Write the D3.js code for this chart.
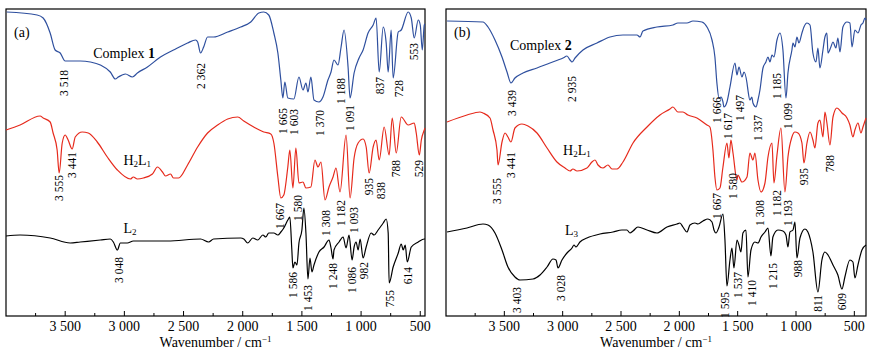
<!DOCTYPE html>
<html><head><meta charset="utf-8">
<script src="https://cdn.jsdelivr.net/npm/d3@7/dist/d3.min.js"></script>
<style>body{margin:0;background:#fff}svg{display:block}text{font-family:"Liberation Serif","Times New Roman",serif}</style>
</head><body><svg id="c" width="874" height="355"></svg>
<script>
// ---------- data (wavenumber cm-1, transmittance a.u.) ----------
const majorTicks = [3500,3000,2500,2000,1500,1000,500];
const minorTicks = [3750,3250,2750,2250,1750,1250,750];
const xTitle = "Wavenumber / cm";

const complex1 = [[3994,304],[3737,301],[3686,298],[3627,283],[3585,266],[3542,263],[3500,255],[3373,255],[3288,254],[3203,251],[3119,244],[3076,237],[3051,239],[2991,242],[2932,239],[2890,243],[2805,249],[2695,259],[2585,266],[2466,273],[2398,276],[2381,274],[2356,263],[2330,269],[2297,279],[2246,279],[2127,284],[2017,289],[1932,294],[1864,303],[1822,304],[1780,301],[1737,283],[1703,263],[1678,236],[1661,218],[1644,234],[1619,218],[1568,217],[1525,239],[1491,226],[1466,233],[1449,224],[1424,239],[1398,216],[1356,214],[1322,219],[1280,236],[1254,244],[1229,256],[1195,251],[1169,269],[1144,286],[1110,249],[1093,218],[1059,243],[1017,258],[983,266],[941,283],[898,291],[873,298],[847,244],[813,289],[788,273],[771,244],[746,286],[729,238],[686,284],[661,286],[602,304],[576,298],[551,278],[517,296],[500,291],[483,266],[466,291],[460,292]];
const h2l1A = [[4000,186],[3881,191],[3712,200],[3686,198],[3627,194],[3602,183],[3568,166],[3551,143],[3525,173],[3500,181],[3475,176],[3441,167],[3415,179],[3356,184],[3305,183],[3229,174],[3144,159],[3059,146],[2949,137],[2924,139],[2890,137],[2839,138],[2763,142],[2720,149],[2678,144],[2652,140],[2610,142],[2585,138],[2542,138],[2466,151],[2381,169],[2297,183],[2212,191],[2127,197],[2042,199],[1991,195],[1907,189],[1822,184],[1763,182],[1737,173],[1703,139],[1678,118],[1653,121],[1619,149],[1602,166],[1576,128],[1551,168],[1525,133],[1491,134],[1466,128],[1424,129],[1390,156],[1364,149],[1339,154],[1305,116],[1271,129],[1237,139],[1212,148],[1178,124],[1127,181],[1093,118],[1059,158],[1025,173],[983,177],[957,169],[932,143],[898,169],[873,176],[847,156],[805,189],[763,161],[737,198],[703,163],[661,199],[602,191],[551,193],[534,183],[508,161],[491,176],[466,186],[460,188]];
const l2 = [[4000,80],[3881,81],[3627,78],[3458,73],[3373,74],[3203,76],[3119,77],[3093,74],[3059,66],[3034,73],[2975,73],[2924,75],[2636,75],[2356,77],[2288,74],[2246,77],[2017,78],[1991,77],[1958,73],[1915,78],[1873,76],[1830,81],[1805,79],[1780,83],[1737,83],[1703,81],[1678,84],[1653,88],[1619,96],[1602,99],[1585,66],[1576,48],[1559,54],[1542,51],[1525,73],[1500,86],[1483,108],[1466,83],[1449,37],[1432,58],[1415,44],[1398,51],[1356,64],[1313,69],[1271,76],[1254,68],[1237,57],[1229,66],[1186,74],[1152,79],[1127,68],[1102,81],[1076,56],[1059,69],[1042,74],[1025,66],[1008,77],[983,58],[957,69],[915,83],[890,81],[856,86],[813,93],[788,97],[771,83],[763,33],[729,49],[686,63],[661,72],[644,66],[627,71],[610,54],[576,69],[517,74],[466,77],[460,77]];

const complex2 = [[3991,295],[3683,294],[3640,289],[3580,276],[3520,259],[3477,244],[3443,233],[3409,238],[3340,243],[3220,248],[3109,253],[3040,256],[2997,258],[2963,260],[2937,256],[2920,254],[2894,258],[2826,266],[2706,273],[2594,279],[2483,281],[2363,281],[2337,279],[2312,285],[2192,289],[2055,291],[2012,293],[1935,293],[1883,295],[1806,294],[1763,289],[1720,276],[1695,259],[1678,233],[1660,218],[1643,219],[1626,214],[1618,209],[1592,214],[1566,229],[1523,253],[1506,241],[1489,249],[1463,239],[1446,244],[1420,233],[1412,226],[1395,216],[1378,219],[1369,213],[1343,209],[1326,216],[1309,226],[1283,248],[1258,254],[1240,259],[1223,254],[1206,261],[1189,259],[1163,276],[1138,283],[1112,266],[1086,218],[1069,243],[1035,266],[1026,273],[1009,269],[992,279],[975,273],[949,283],[932,289],[906,293],[880,291],[855,263],[829,254],[812,268],[795,248],[769,266],[752,279],[735,283],[726,263],[701,269],[683,274],[658,268],[641,278],[623,264],[598,289],[563,294],[538,293],[520,269],[495,286],[469,283],[443,291],[426,293],[409,298],[400,296]];
const h2l1B = [[3991,194],[3820,201],[3709,204],[3683,203],[3623,198],[3597,186],[3563,166],[3554,151],[3520,174],[3494,183],[3469,179],[3443,174],[3409,188],[3349,192],[3297,190],[3220,183],[3134,168],[3049,154],[2980,148],[2937,145],[2912,147],[2877,145],[2792,148],[2749,154],[2723,156],[2697,151],[2655,148],[2612,151],[2577,147],[2534,147],[2483,154],[2397,173],[2277,189],[2166,201],[2080,207],[2055,209],[2012,204],[1969,204],[1926,201],[1849,198],[1763,191],[1738,189],[1712,166],[1695,139],[1678,126],[1652,128],[1626,149],[1592,173],[1575,158],[1558,176],[1540,163],[1506,136],[1498,141],[1463,134],[1420,139],[1395,163],[1369,156],[1352,163],[1326,136],[1300,124],[1266,133],[1240,159],[1206,173],[1189,133],[1163,161],[1129,188],[1095,124],[1069,159],[1035,179],[1009,184],[983,183],[949,173],[932,153],[906,173],[880,184],[855,176],[838,168],[812,193],[795,196],[769,179],[752,204],[735,193],[709,171],[683,199],[649,208],[606,203],[563,198],[538,191],[512,179],[495,186],[469,193],[443,183],[426,189],[400,198]];
const l3 = [[3991,84],[3820,88],[3683,92],[3640,91],[3580,83],[3520,66],[3469,49],[3409,39],[3366,36],[3254,37],[3194,41],[3134,49],[3083,57],[3057,56],[3040,48],[3006,56],[2963,63],[2920,68],[2903,71],[2886,69],[2852,74],[2792,78],[2680,82],[2569,84],[2492,86],[2449,86],[2423,83],[2397,85],[2355,89],[2277,86],[2192,83],[2106,89],[2020,92],[1995,93],[1969,89],[1935,84],[1909,91],[1866,93],[1840,92],[1797,95],[1755,97],[1720,94],[1703,86],[1686,83],[1660,89],[1626,102],[1609,76],[1592,30],[1566,56],[1549,68],[1532,48],[1506,76],[1489,71],[1472,64],[1455,83],[1429,86],[1412,39],[1386,66],[1352,74],[1326,73],[1300,79],[1266,84],[1240,88],[1215,60],[1198,79],[1155,86],[1112,85],[1086,81],[1069,69],[1052,84],[1026,86],[1009,94],[992,58],[966,78],[923,87],[898,84],[855,64],[812,24],[778,56],[752,64],[726,61],[683,51],[641,41],[606,27],[581,39],[538,56],[512,54],[495,38],[469,51],[435,66],[400,71]];

// peak labels: [text, wavenumber, value at top of label]
const peaksC1 = [["3 518",3508,246],["2 362",2356,253],["1 665",1661,208],["1 603",1568,207],["1 370",1347,206],["1 188",1169,238],["1 091",1093,211],["837",839,239],["728",678,236],["553",551,273]];
const peaksH2L1A = [["3 555",3551,141],["3 441",3441,164],["1 667",1686,113],["1 580",1534,121],["1 308",1297,106],["1 182",1169,116],["1 093",1059,109],["935",932,138],["838",830,134],["788",703,156],["529",508,156]];
const peaksL2 = [["3 048",3042,59],["1 586",1576,44],["1 453",1449,31],["1 248",1237,53],["1 086",1076,49],["982",974,54],["755",754,26],["614",602,49]];
const peaksC2 = [["3 439",3434,226],["2 935",2920,240],["1 666",1678,219],["1 617",1583,203],["1 497",1480,221],["1 337",1326,201],["1 185",1163,243],["1 099",1069,213]];
const peaksH2L1B = [["3 555",3563,138],["3 441",3443,164],["1 667",1678,123],["1 580",1540,143],["1 308",1309,116],["1 182",1163,126],["1 193",1069,116],["935",932,148],["788",709,161]];
const peaksL3 = [["3 403",3392,29],["3 028",3014,41],["1 595",1609,24],["1 537",1498,44],["1 410",1378,36],["1 215",1198,53],["988",983,56],["811",812,21],["609",606,23]];

const panelA = {tag:"(a)", domain:[4000,460], series:[
  {data:complex1, color:"#2e4f9e", peaks:peaksC1, name:[["Complex ",""],["1","b"]], nw:3263, nv:258},
  {data:h2l1A, color:"#e62a1c", peaks:peaksH2L1A, name:[["H",""],["2","s"],["L",""],["1","s"]], nw:3008, nv:151},
  {data:l2, color:"#000000", peaks:peaksL2, name:[["L",""],["2","s"]], nw:3008, nv:83}]};
const panelB = {tag:"(b)", domain:[4000,400], series:[
  {data:complex2, color:"#2e4f9e", peaks:peaksC2, name:[["Complex ",""],["2","b"]], nw:3452, nv:266},
  {data:h2l1B, color:"#e62a1c", peaks:peaksH2L1B, name:[["H",""],["2","s"],["L",""],["1","s"]], nw:2997, nv:161},
  {data:l3, color:"#000000", peaks:peaksL3, name:[["L",""],["3","s"]], nw:2980, nv:81}]};

// ---------- drawing ----------
const svg = d3.select("#c");
const fmt = d => d >= 1000 ? Math.floor(d/1000) + " " + String(d%1000).padStart(3,"0") : String(d);
const plotTop = 9, plotBottom = 316;

function drawPanel(p, x0, x1){
  const g = svg.append("g");
  const x = d3.scaleLinear().domain(p.domain).range([x0, x1]);
  const y = d3.scaleLinear().domain([0, plotBottom-plotTop]).range([plotBottom, plotTop]);
  g.append("rect").attr("x",x0).attr("y",plotTop).attr("width",x1-x0).attr("height",plotBottom-plotTop)
    .attr("fill","none").attr("stroke","#000").attr("stroke-width",1.2);
  g.selectAll(".mj").data(majorTicks).join("line")
    .attr("x1",d=>x(d)).attr("x2",d=>x(d)).attr("y1",plotBottom).attr("y2",plotBottom-5)
    .attr("stroke","#000").attr("stroke-width",1);
  g.selectAll(".mn").data(minorTicks).join("line")
    .attr("x1",d=>x(d)).attr("x2",d=>x(d)).attr("y1",plotBottom).attr("y2",plotBottom-3)
    .attr("stroke","#000").attr("stroke-width",1);
  g.selectAll(".tl").data(majorTicks).join("text")
    .attr("x",d=>x(d)).attr("y",331).attr("text-anchor","middle")
    .attr("font-size",14).text(fmt);
  const t = g.append("text").attr("x",(x0+x1)/2).attr("y",347).attr("text-anchor","middle").attr("font-size",14);
  t.append("tspan").text(xTitle);
  t.append("tspan").attr("dy",-5).attr("font-size",9).text("−1");
  g.append("text").attr("x",x0+8).attr("y",37).attr("font-size",14).text(p.tag);

  const line = d3.line().x(d=>x(d[0])).y(d=>y(d[1])).curve(d3.curveMonotoneX);
  p.series.forEach(s=>{
    g.append("path").datum(s.data).attr("d",line).attr("fill","none")
      .attr("stroke",s.color).attr("stroke-width",1.2).attr("stroke-linejoin","round");
    s.peaks.forEach(([txt,w,v])=>{
      g.append("text").attr("transform",`translate(${x(w)},${y(v)}) rotate(-90)`)
        .attr("text-anchor","end").attr("dy","0.35em").attr("font-size",11.5).text(txt);
    });
    const nt = g.append("text").attr("x",x(s.nw)).attr("y",y(s.nv)).attr("font-size",14);
    s.name.forEach(([str,k])=>{
      const ts = nt.append("tspan").text(str);
      if(k==="b") ts.attr("font-weight","bold");
      if(k==="s") ts.attr("font-size",9).attr("baseline-shift","-25%");
    });
  });
}
drawPanel(panelA, 6, 425);
drawPanel(panelB, 446, 866);
</script></body></html>
